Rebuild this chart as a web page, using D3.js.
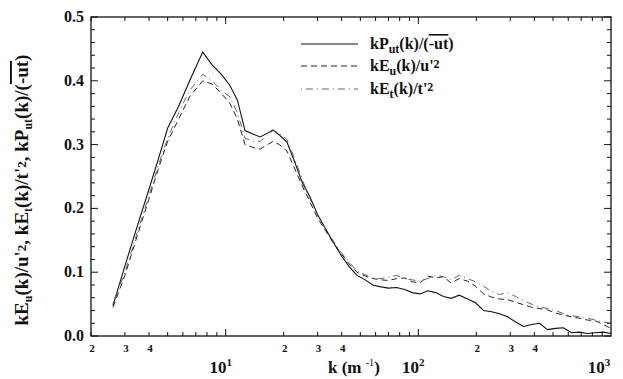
<!DOCTYPE html>
<html><head><meta charset="utf-8">
<script src="https://cdn.jsdelivr.net/npm/d3@7"></script>
<style>body{margin:0;background:#fff}svg{display:block}text{font-family:"Liberation Serif","DejaVu Serif",serif;font-weight:bold;fill:#111}</style>
</head><body><svg id="c" width="623" height="379"></svg>
<script>
const kVals=[2.6,3.0,3.5,4.0,4.5,5.0,5.7,6.5,7.6,8.5,9.5,10.5,11.5,12.6,14,15.1,16.5,17.6,19,20.8,23,25,27.4,30,33,36,40,44,48,53,58,64,70,77,85,93,102,112,123,135,148,163,180,198,218,240,264,290,320,352,387,426,468,515,566,623,685,754,829,912,1000];
const putVals=[0.048,0.11,0.175,0.23,0.28,0.326,0.36,0.40,0.445,0.425,0.41,0.393,0.37,0.322,0.316,0.312,0.318,0.323,0.315,0.304,0.27,0.24,0.218,0.19,0.168,0.148,0.125,0.108,0.095,0.088,0.08,0.077,0.075,0.076,0.073,0.068,0.066,0.071,0.068,0.062,0.059,0.064,0.058,0.052,0.04,0.038,0.035,0.03,0.022,0.015,0.018,0.02,0.01,0.012,0.013,0.005,0.006,0.004,0.005,0.006,0.004];
const euVals=[0.045,0.095,0.16,0.215,0.265,0.305,0.34,0.375,0.40,0.395,0.38,0.365,0.34,0.30,0.295,0.293,0.30,0.305,0.30,0.29,0.26,0.235,0.21,0.185,0.165,0.147,0.128,0.112,0.10,0.094,0.09,0.088,0.087,0.09,0.091,0.085,0.083,0.094,0.091,0.093,0.083,0.09,0.086,0.078,0.066,0.061,0.058,0.057,0.053,0.049,0.045,0.043,0.041,0.036,0.033,0.03,0.028,0.025,0.024,0.018,0.012];
const etVals=[0.05,0.10,0.165,0.22,0.27,0.31,0.35,0.385,0.41,0.40,0.385,0.375,0.35,0.31,0.305,0.305,0.315,0.322,0.318,0.308,0.275,0.245,0.215,0.19,0.168,0.15,0.13,0.115,0.102,0.096,0.091,0.09,0.092,0.095,0.09,0.088,0.086,0.09,0.095,0.093,0.088,0.095,0.09,0.085,0.078,0.07,0.065,0.068,0.062,0.055,0.05,0.046,0.043,0.04,0.035,0.032,0.03,0.028,0.025,0.022,0.02];
const yTicks=[0,0.1,0.2,0.3,0.4,0.5];
const decadeTicks=[10,100,1000];
const minorLabelTicks=[2,3,4,20,30,40,200,300,400];

const L=91,R=611,T=17,B=336;
const svg=d3.select("#c");
const x=d3.scaleLog().domain([2,1000]).range([L,R]);
const y=d3.scaleLinear().domain([0,0.5]).range([B,T]);

const minorX=[];
[1,10,100].forEach(d=>{for(let m=1;m<10;m++){const v=d*m; if(v>=2&&v<=1000) minorX.push(v);}});
const g=svg.append("g").attr("stroke","#111").attr("stroke-width",1);
minorX.forEach(v=>{
  const big=decadeTicks.includes(v);
  const len=big?7:4;
  g.append("line").attr("x1",x(v)).attr("x2",x(v)).attr("y1",B).attr("y2",B-len);
  g.append("line").attr("x1",x(v)).attr("x2",x(v)).attr("y1",T).attr("y2",T+len);
});
d3.range(0,0.5001,0.02).forEach(v=>{
  const big=Math.abs(v*10-Math.round(v*10))<1e-6;
  const len=big?7:4;
  g.append("line").attr("x1",L).attr("x2",L+len).attr("y1",y(v)).attr("y2",y(v));
  g.append("line").attr("x1",R).attr("x2",R-len).attr("y1",y(v)).attr("y2",y(v));
});
svg.append("rect").attr("x",L).attr("y",T).attr("width",R-L).attr("height",B-T)
  .attr("fill","none").attr("stroke","#111").attr("stroke-width",1.3);

yTicks.forEach(v=>{
  svg.append("text").attr("x",L-7).attr("y",y(v)+5).attr("text-anchor","end")
   .attr("font-size",16).text(v.toFixed(1));
});
minorLabelTicks.forEach(v=>{
  svg.append("text").attr("x",x(v)+1).attr("y",352).attr("text-anchor","middle")
   .attr("font-size",11).text(String(v)[0]);
});
const decLbl={10:"1",100:"2",1000:"3"};
decadeTicks.forEach(v=>{
  const t=svg.append("text").attr("x",x(v)-(v===1000?12:5)).attr("y",373).attr("text-anchor","middle")
   .attr("font-size",17).attr("font-weight","normal");
  t.append("tspan").text("10");
  t.append("tspan").attr("dy",-7).attr("font-size",11).text(decLbl[v]);
});
const xt=svg.append("text").attr("x",328).attr("y",373).attr("font-size",17);
xt.append("tspan").text("k (m ");
xt.append("tspan").attr("dy",-7).attr("font-size",10).attr("font-weight","normal").text("-1");
xt.append("tspan").attr("dy",7).text(")");

const yt=svg.append("text").attr("transform","translate(28,190) rotate(-90)")
  .attr("text-anchor","middle").attr("font-size",19);
function sub(t,s){t.append("tspan").attr("dy",4).attr("font-size",12).text(s);}
function norm(t,s,dy){t.append("tspan").attr("dy",dy||0).text(s);}
norm(yt,"kE");sub(yt,"u");norm(yt,"(k)/u'",-4);
yt.append("tspan").attr("font-size",13).attr("dy",-2).text("2");
norm(yt,", kE",2);sub(yt,"t");norm(yt,"(k)/t'",-4);
yt.append("tspan").attr("font-size",13).attr("dy",-2).text("2");
norm(yt,", kP",2);sub(yt,"ut");norm(yt,"(k)/(",-4);
yt.append("tspan").attr("text-decoration","overline").text("-ut");
norm(yt,")");

const series=[
  {vals:putVals,dash:null,color:"#111",w:1.1},
  {vals:euVals,dash:"6,4",color:"#222",w:1},
  {vals:etVals,dash:"1,4,7,4",color:"#555",w:0.9}
];
const line=d3.line().x(d=>x(d[0])).y(d=>y(d[1]));
series.forEach(s=>{
  svg.append("path").datum(kVals.map((k,i)=>[k,s.vals[i]]))
   .attr("d",line).attr("fill","none").attr("stroke",s.color)
   .attr("stroke-width",s.w).attr("stroke-dasharray",s.dash);
});

const legY=[44,66,89];
series.forEach((s,i)=>{
  svg.append("line").attr("x1",301).attr("x2",358).attr("y1",legY[i]).attr("y2",legY[i])
   .attr("stroke",s.color).attr("stroke-width",s.w).attr("stroke-dasharray",s.dash);
});
const l1=svg.append("text").attr("x",370).attr("y",legY[0]+5).attr("font-size",16);
norm(l1,"kP");sub(l1,"ut");norm(l1,"(k)/(",-4);
l1.append("tspan").attr("text-decoration","overline").text("-ut");norm(l1,")");
const l2=svg.append("text").attr("x",370).attr("y",legY[1]+5).attr("font-size",16);
norm(l2,"kE");sub(l2,"u");norm(l2,"(k)/u'",-4);
l2.append("tspan").attr("font-size",12).attr("dy",-3).text("2");
const l3=svg.append("text").attr("x",370).attr("y",legY[2]+5).attr("font-size",16);
norm(l3,"kE");sub(l3,"t");norm(l3,"(k)/t'",-4);
l3.append("tspan").attr("font-size",12).attr("dy",-3).text("2");
</script></body></html>
